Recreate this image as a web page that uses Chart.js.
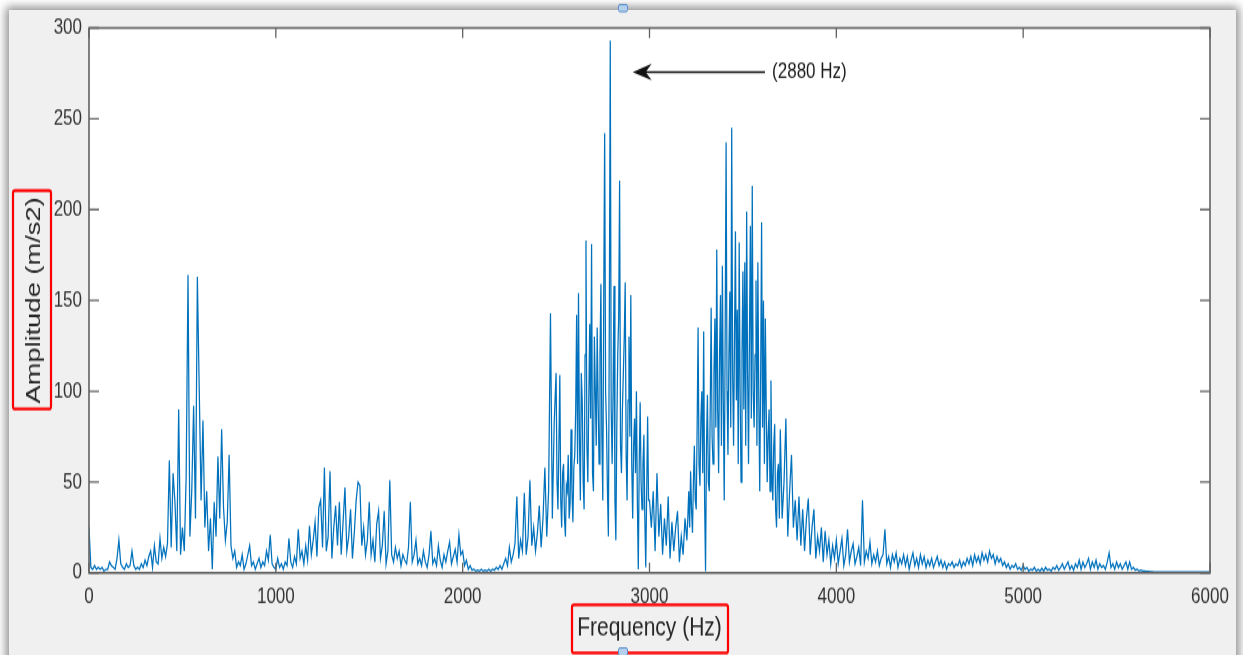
<!DOCTYPE html>
<html lang="en">
<head>
  <meta charset="UTF-8">
  <title>Frequency spectrum</title>
  <script src="https://cdn.jsdelivr.net/npm/chart.js"></script>
  <style>
    html, body {
      margin: 0;
      width: 1243px;
      height: 655px;
      overflow: hidden;
      background: #ffffff;
    }
    .panel {
      position: absolute;
      left: 9px;
      top: 10px;
      width: 1227px;
      height: 660px;
      background: #f0f0f0;
      box-shadow: 0 0 9px 3px rgba(0,0,0,0.45);
    }
    /* figure is drawn short and stretched vertically, like the exported plot */
    #spectrum {
      position: absolute;
      left: 0;
      top: 0;
      transform-origin: 0 0;
      transform: scaleY(1.2996);
    }
  </style>
</head>
<body>

<div class="panel"></div>
<canvas id="spectrum" width="1243" height="504"></canvas>

<script>
// amplitude (m/s2) per frequency band; 10 Hz spacing, 5 Hz inside the two main clusters
const amp_0_500 = [25,3,2,4,2,3,2,3,1,2, 2,6,4,3,2,8,18,5,3,2, 5,3,4,12,4,2,3,2,5,3, 7,4,9,12,3,15,6,5,19,8, 14,9,16,62,14,55,39,12,90,10];
const amp_500_1000 = [25,12,53,164,20,45,92,30,163,101, 40,84,25,45,12,30,2,39,20,64, 30,79,36,18,28,65,15,8,12,3, 6,4,10,2,5,10,15,4,6,2, 5,8,3,6,4,12,7,21,5,3];
const amp_1000_1500 = [2,8,3,5,2,6,4,19,6,3, 9,5,24,8,12,5,15,7,26,10, 18,28,9,36,40,14,58,12,20,56, 8,25,37,15,39,10,28,47,12,20, 35,8,22,40,50,48,15,25,10,18];
const amp_1500_2000 = [39,10,18,6,27,34,8,15,34,5, 12,51,10,6,14,8,12,4,10,7, 5,14,39,6,10,18,5,8,4,12, 6,3,10,23,5,8,4,15,7,3, 10,6,12,17,5,9,13,6,21,10];
const amp_2000_2500 = [12,4,7,2,4,1.5,2,1,1.5,1, 2,1,1.5,1,2,1,2,1.5,3,2, 4,2,5,8,4,14,6,10,16,42, 8,18,12,44,10,20,51,15,25,12, 22,37,14,30,58,20,45,143,30,83];
const amp_2500_3000 = [110,50,35,70,109,40,25,55,60,30, 20,48,45,65,30,38,79,45,28,58,
  65,90,142,60,154,75,40,110,95,50, 35,120,183,70,50,95,137,85,181,55,
  45,130,100,70,135,95,60,120,159,75, 40,150,242,100,80,45,20,140,293,90,
  60,100,158,40,18,80,120,140,216,70, 55,90,110,130,160,65,40,95,130,75,
  153,60,30,70,85,55,100,40,2,60, 94,50,35,60,76,30,3,45,86,40];
const amp_3000_3200 = [40,25,45,12,55,20,38,10,30,15, 42,8,28,12,25,34,6,20,10,30];
const amp_3200_3500 = [18,30,45,25,56,35,22,50,70,40, 35,80,135,60,48,85,100,55,133,40,
  1,70,98,50,45,90,146,75,60,110, 140,80,178,90,55,120,153,70,169,95,
  40,130,237,100,65,120,155,80,245,110, 70,130,188,95,145,60,182,100,50,120];
const amp_3500_3700 = [166,90,171,70,199,110,60,130,191,85, 213,100,80,120,161,70,171,95,45,110,
  193,80,150,60,140,90,50,75,90,45, 106,55,40,70,82,35,25,55,60,30];
const amp_3700_4000 = [79,30,50,85,20,45,65,25,40,18, 42,15,35,12,30,41,10,25,35,8, 20,12,25,6,23,10,18,5,15,8];
const amp_4000_4500 = [18,5,12,19,4,10,24,6,12,16, 5,9,14,4,40,6,12,8,17,5, 10,6,12,4,8,10,24,5,9,3, 10,6,11,3,8,5,10,4,9,2, 7,11,4,8,3,10,5,9,3,7];
const amp_4500_5000 = [4,8,3,6,9,4,7,3,6,2, 5,4,6,3,5,4,7,3,6,4, 8,5,9,4,10,6,9,5,11,7, 10,6,12,8,10,5,9,6,8,4, 6,3,5,2,4,3,5,2,3,1.5];
const amp_5000_5500 = [4,2,3,1,2,1.5,3,1,2,1, 2.5,1,3,1.5,2,1,3,2,4,1.5, 3,5,2,4,6,2,4,1.5,5,3, 7,2,6,3,5,8,2,6,3,7, 2,5,3,4,2,6,11,3,5,2];
const amp_5500_6000 = [6,3,5,2,4,6,2,6,2,3, 1.5,2,1,1.5,1,1,0.8,0.8,0.6,0.6, 0.5,0.5,0.5,0.5,0.5,0.5,0.5,0.5,0.5,0.5, 0.5,0.5,0.5,0.5,0.5,0.5,0.5,0.5,0.5,0.5, 0.5,0.5,0.5,0.5,0.5,0.5,0.5,0.5,0.5,0.5, 0.5];

// [start Hz, spacing Hz, values]
const bands = [
  [0, 10, amp_0_500], [500, 10, amp_500_1000], [1000, 10, amp_1000_1500],
  [1500, 10, amp_1500_2000], [2000, 10, amp_2000_2500], [2500, 5, amp_2500_3000],
  [3000, 10, amp_3000_3200], [3200, 5, amp_3200_3500], [3500, 5, amp_3500_3700],
  [3700, 10, amp_3700_4000], [4000, 10, amp_4000_4500], [4500, 10, amp_4500_5000],
  [5000, 10, amp_5000_5500], [5500, 10, amp_5500_6000]
];

const xTicks = [0, 1000, 2000, 3000, 4000, 5000, 6000];
const yTicks = [0, 50, 100, 150, 200, 250, 300];

// peak marker: arrow tip/tail in Hz, height in m/s2
const peakLabel = '(2880 Hz)';
const arrowTipHz = 2910, arrowTailHz = 3618, arrowAmp = 275.7, labelHz = 3656;

const points = [];
bands.forEach(([start, step, vals]) => {
  vals.forEach((a, i) => points.push({ x: start + i * step, y: a }));
});

const FONT = "'Liberation Sans', Arial, sans-serif";
const TEXT = '#333333';

const figureDecor = {
  id: 'figureDecor',
  beforeDatasetsDraw(chart) {
    const { ctx, chartArea: a } = chart;
    ctx.save();
    ctx.fillStyle = '#ffffff';
    ctx.fillRect(a.left, a.top, a.right - a.left, a.bottom - a.top);
    ctx.restore();
  },
  afterDraw(chart) {
    const { ctx, chartArea: a, scales } = chart;
    const xs = scales.x, ys = scales.y;
    ctx.save();

    // box + inward ticks on all four sides
    ctx.strokeStyle = '#626262';
    ctx.lineWidth = 1.6;
    ctx.strokeRect(a.left, a.top, a.right - a.left, a.bottom - a.top);
    ctx.lineWidth = 1.3;
    ctx.beginPath();
    xTicks.forEach(v => {
      const px = xs.getPixelForValue(v);
      ctx.moveTo(px, a.bottom); ctx.lineTo(px, a.bottom - 7.7);
      ctx.moveTo(px, a.top); ctx.lineTo(px, a.top + 7.7);
    });
    yTicks.forEach(v => {
      const py = ys.getPixelForValue(v);
      ctx.moveTo(a.left, py); ctx.lineTo(a.left + 10, py);
      ctx.moveTo(a.right, py); ctx.lineTo(a.right - 10, py);
    });
    ctx.stroke();

    // arrow to the main peak
    const tipX = xs.getPixelForValue(arrowTipHz);
    const tailX = xs.getPixelForValue(arrowTailHz);
    const ay = ys.getPixelForValue(arrowAmp);
    ctx.strokeStyle = '#111';
    ctx.fillStyle = '#111';
    ctx.lineWidth = 1.5;
    ctx.beginPath();
    ctx.moveTo(tailX, ay); ctx.lineTo(tipX + 12, ay);
    ctx.stroke();
    ctx.beginPath();
    ctx.moveTo(tipX, ay);
    ctx.lineTo(tipX + 19, ay - 6.4);
    ctx.lineTo(tipX + 13, ay);
    ctx.lineTo(tipX + 19, ay + 6.4);
    ctx.closePath();
    ctx.fill();
    ctx.font = '17px ' + FONT;
    ctx.textAlign = 'left';
    ctx.textBaseline = 'middle';
    ctx.fillStyle = '#1a1a1a';
    ctx.fillText(peakLabel, xs.getPixelForValue(labelHz), ay);

    // red frames round the axis titles
    ctx.strokeStyle = '#ff0000';
    ctx.lineWidth = 2.2;
    ctx.beginPath();
    ctx.roundRect(13, 146.7, 38, 168, 2);
    ctx.roundRect(572, 465.4, 156, 37, 2);
    ctx.stroke();

    // small selection handles
    ctx.fillStyle = '#b4d0ee';
    ctx.strokeStyle = '#5b8fc9';
    ctx.lineWidth = 1;
    ctx.beginPath();
    ctx.roundRect(618.5, 3.5, 9, 5.5, 1.5);
    ctx.roundRect(618.5, 498.5, 9, 6, 1.5);
    ctx.fill();
    ctx.stroke();
    ctx.restore();
  }
};

new Chart(document.getElementById('spectrum'), {
  type: 'line',
  data: {
    datasets: [{
      data: points,
      borderColor: '#0072BD',
      borderWidth: 1.25,
      pointRadius: 0,
      tension: 0,
      fill: false
    }]
  },
  options: {
    responsive: false,
    animation: false,
    devicePixelRatio: 1,
    events: [],
    layout: { padding: { left: 14, right: 33, top: 21.5, bottom: 0 } },
    plugins: { legend: { display: false }, tooltip: { enabled: false } },
    scales: {
      x: {
        type: 'linear',
        min: 0, max: 6000,
        afterBuildTicks: s => { s.ticks = xTicks.map(v => ({ value: v })); },
        ticks: {
          padding: 8, color: TEXT, font: { family: FONT, size: 17 }, maxRotation: 0,
          callback: v => String(v)
        },
        grid: { display: false, drawTicks: false },
        border: { display: false },
        title: {
          display: true, text: 'Frequency (Hz)', color: '#262626',
          font: { family: FONT, size: 21 }, padding: { top: 0, bottom: 8 }
        },
        afterFit: s => { s.height = 63.2; }
      },
      y: {
        min: 0, max: 300,
        afterBuildTicks: s => { s.ticks = yTicks.map(v => ({ value: v })); },
        ticks: { padding: 7, color: TEXT, font: { family: FONT, size: 17 }, callback: v => String(v) },
        grid: { display: false, drawTicks: false },
        border: { display: false },
        title: {
          display: true, text: 'Amplitude (m/s2)', color: '#262626',
          font: { family: FONT, size: 21 }, padding: { top: 8, bottom: 0 }
        },
        afterFit: s => { s.width = 75; }
      }
    }
  },
  plugins: [figureDecor]
});
</script>

</body>
</html>
